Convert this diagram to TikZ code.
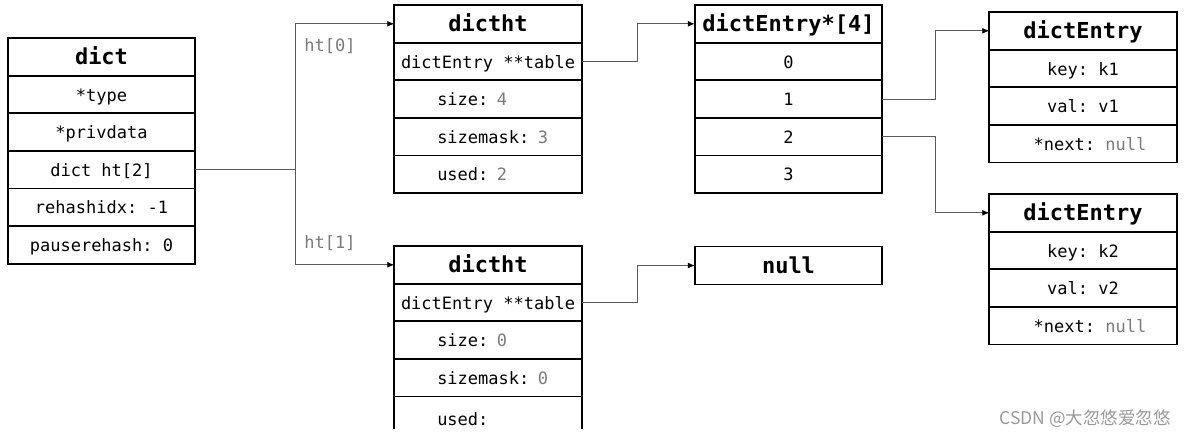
\documentclass[tikz,border=0pt]{standalone}
\usepackage{fontspec}
\setmonofont{DejaVu Sans Mono}
\newfontfamily\cjk{Noto Sans CJK SC}
\usetikzlibrary{positioning,arrows.meta}

\definecolor{valgray}{HTML}{7A7A7A}
\definecolor{linkgray}{HTML}{5A5A5A}
\newcommand{\val}[1]{\textcolor{valgray}{#1}}

\tikzset{
  field/.style={draw, line width=1.8pt, outer sep=0pt, inner sep=0pt,
    minimum width=187.5pt, minimum height=37.6pt,
    text height=13.2pt, text depth=0pt,
    font=\ttfamily\fontsize{17}{17}\selectfont},
  head/.style={field, text height=15pt,
    font=\ttfamily\bfseries\fontsize{22}{22}\selectfont},
  lfield/.style={field, text width=101.5pt, align=left},
  link/.style={draw=linkgray, line width=0.9pt,
    -{Latex[length=7pt,width=6pt,color=black]}},
  lbl/.style={text=valgray, font=\ttfamily\fontsize{17}{17}\selectfont},
}

\begin{document}
\begin{tikzpicture}[x=1pt,y=-1pt]
\useasboundingbox (0,0) rectangle (1184,437);

% dict
\node[head] (dhead) at (101.5,56.8) {dict};
\node[field, below=0pt of dhead] (dtype) {*type};
\node[field, below=0pt of dtype] (dpriv) {*privdata};
\node[field, below=0pt of dpriv] (dht) {dict ht[2]};
\node[field, below=0pt of dht] (drehash) {rehashidx: -1};
\node[field, below=0pt of drehash] (dpause) {pauserehash: 0};

% ht[0]
\node[head] (t0head) at (488,23.8) {dictht};
\node[field, below=0pt of t0head] (t0tab) {dictEntry **table};
\node[lfield, below=0pt of t0tab] (t0size) {\mbox{size: \val{4}}};
\node[lfield, below=0pt of t0size] (t0mask) {\mbox{sizemask: \val{3}}};
\node[lfield, below=0pt of t0mask] (t0used) {\mbox{used: \val{2}}};

% ht[1], cut off at the bottom
\begin{scope}
\clip (380,230) rectangle (600,428);
\node[head] (t1head) at (488,264.8) {dictht};
\node[field, below=0pt of t1head] (t1tab) {dictEntry **table};
\node[lfield, below=0pt of t1tab] (t1size) {\mbox{size: \val{0}}};
\node[lfield, below=0pt of t1size] (t1mask) {\mbox{sizemask: \val{0}}};
\node[lfield, below=0pt of t1mask, minimum height=45pt] (t1used) {\mbox{used:}};
\end{scope}

% table array
\node[head] (arrhead) at (788.5,23.8) {dictEntry*[4]};
\node[field, below=0pt of arrhead] (a0) {0};
\node[field, below=0pt of a0] (a1) {1};
\node[field, below=0pt of a1] (a2) {2};
\node[field, below=0pt of a2] (a3) {3};

\node[head, minimum height=38pt] (nullbox) at (788.5,265.5) {null};

% entries
\node[head] (e1head) at (1083,30.8) {dictEntry};
\node[field, below=0pt of e1head] (e1key) {key: k1};
\node[field, below=0pt of e1key] (e1val) {val: v1};
\node[field, below=0pt of e1val] (e1next) {\hspace*{14pt}*next: \val{null}};

\node[head] (e2head) at (1083,212.8) {dictEntry};
\node[field, below=0pt of e2head] (e2key) {key: k2};
\node[field, below=0pt of e2key] (e2val) {val: v2};
\node[field, below=0pt of e2val] (e2next) {\hspace*{14pt}*next: \val{null}};

% links
\draw[link] (dht.east) -- ++(100,0) |- (t0head.west);
\draw[link] (dht.east) -- ++(100,0) |- (t1head.west);
\node[lbl] (ht0) at (330,46.5) {ht[0]};
\node[lbl] (ht1) at (330,243.5) {ht[1]};

\draw[link] (t0tab.east) -- ++(56,0) |- (arrhead.west);
\draw[link] (t1tab.east) -- ++(56,0) |- (nullbox.west);
\draw[link] (a1.east) -- ++(53,0) |- (e1head.west);
\draw[link] (a2.east) -- ++(53,0) |- (e2head.west);

\node[text=black!40, font=\cjk\fontsize{17.5}{17.5}\selectfont] (mark) at (1085,419) {CSDN @大忽悠爱忽悠};

\end{tikzpicture}
\end{document}
